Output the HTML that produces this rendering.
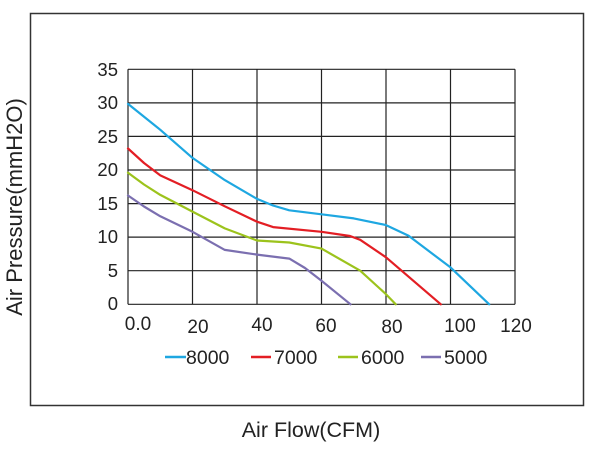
<!DOCTYPE html>
<html><head><meta charset="utf-8"><style>
html,body{margin:0;padding:0;background:#fff;}
svg{display:block;font-family:"Liberation Sans",Arial,sans-serif;}
</style></head><body>
<svg width="600" height="450" viewBox="0 0 600 450">
<rect x="30.5" y="13.5" width="553" height="392" fill="none" stroke="#333" stroke-width="1.5"/>
<g stroke="#222" stroke-width="1.2">
<line x1="128" y1="69.3" x2="515" y2="69.3"/>
<line x1="128" y1="102.9" x2="515" y2="102.9"/>
<line x1="128" y1="136.4" x2="515" y2="136.4"/>
<line x1="128" y1="170" x2="515" y2="170"/>
<line x1="128" y1="203.6" x2="515" y2="203.6"/>
<line x1="128" y1="237.1" x2="515" y2="237.1"/>
<line x1="128" y1="270.7" x2="515" y2="270.7"/>
<line x1="128" y1="304.3" x2="515" y2="304.3"/>
<line x1="128" y1="69.3" x2="128" y2="304.3"/>
<line x1="192.5" y1="69.3" x2="192.5" y2="304.3"/>
<line x1="257" y1="69.3" x2="257" y2="304.3"/>
<line x1="321.5" y1="69.3" x2="321.5" y2="304.3"/>
<line x1="386" y1="69.3" x2="386" y2="304.3"/>
<line x1="450.5" y1="69.3" x2="450.5" y2="304.3"/>
<line x1="515" y1="69.3" x2="515" y2="304.3"/>
</g>
<g fill="#222" font-size="18.5" text-anchor="end">
<text x="118" y="76">35</text><text x="118" y="109">30</text><text x="118" y="143">25</text>
<text x="118" y="176">20</text><text x="118" y="210">15</text><text x="118" y="243">10</text>
<text x="118" y="277">5</text><text x="118" y="310">0</text>
</g>
<g fill="#222" font-size="19" text-anchor="middle">
<text x="138" y="330">0.0</text><text x="198" y="333">20</text><text x="262" y="331">40</text>
<text x="326" y="332">60</text><text x="392" y="333">80</text><text x="460" y="332">100</text>
<text x="516" y="332">120</text>
</g>
<g fill="none" stroke-width="2.2" stroke-linejoin="round" stroke-linecap="round">
<polyline stroke="#1ea7e1" points="128,103.9 160.3,129.8 192.5,157.9 224.8,180.1 257,198.9 273,205.5 289.3,210.3 321.5,214.3 353.8,218.4 386,225.1 408.6,235.8 450.5,267.4 489.2,304.3"/>
<polyline stroke="#e31e24" points="128,148.5 144,163 160.3,175.4 192.5,190.2 224.8,206.3 257,221.7 273.1,227.1 321.5,231.8 350,236 360.2,239.8 386,257.3 440.8,304.3"/>
<polyline stroke="#9cc31c" points="128,172.7 144,184.5 160.3,194.9 192.5,211.6 224.8,228.4 257,240.5 289.3,242.5 321.5,248.6 360.2,270.7 386,294.2 395.7,304.3"/>
<polyline stroke="#7b6fb0" points="128,195.5 144,206.5 160.3,216.3 192.5,231.8 224.8,249.9 257,254.6 289.3,258.6 305,268 321.5,280.8 350.5,304.3"/>
</g>
<g stroke-width="2.4">
<line x1="165" y1="357" x2="186" y2="357" stroke="#1ea7e1"/>
<line x1="251" y1="357" x2="271" y2="357" stroke="#e31e24"/>
<line x1="338" y1="357" x2="358" y2="357" stroke="#9cc31c"/>
<line x1="421" y1="357" x2="441" y2="357" stroke="#7b6fb0"/>
</g>
<g fill="#222" font-size="19.5">
<text x="186" y="364">8000</text><text x="274" y="364">7000</text>
<text x="361" y="364">6000</text><text x="444" y="364">5000</text>
</g>
<text x="311" y="437" font-size="21.5" fill="#222" text-anchor="middle">Air Flow(CFM)</text>
<text transform="translate(22,207) rotate(-90)" font-size="22" fill="#222" text-anchor="middle">Air Pressure(mmH2O)</text>
</svg>
</body></html>
